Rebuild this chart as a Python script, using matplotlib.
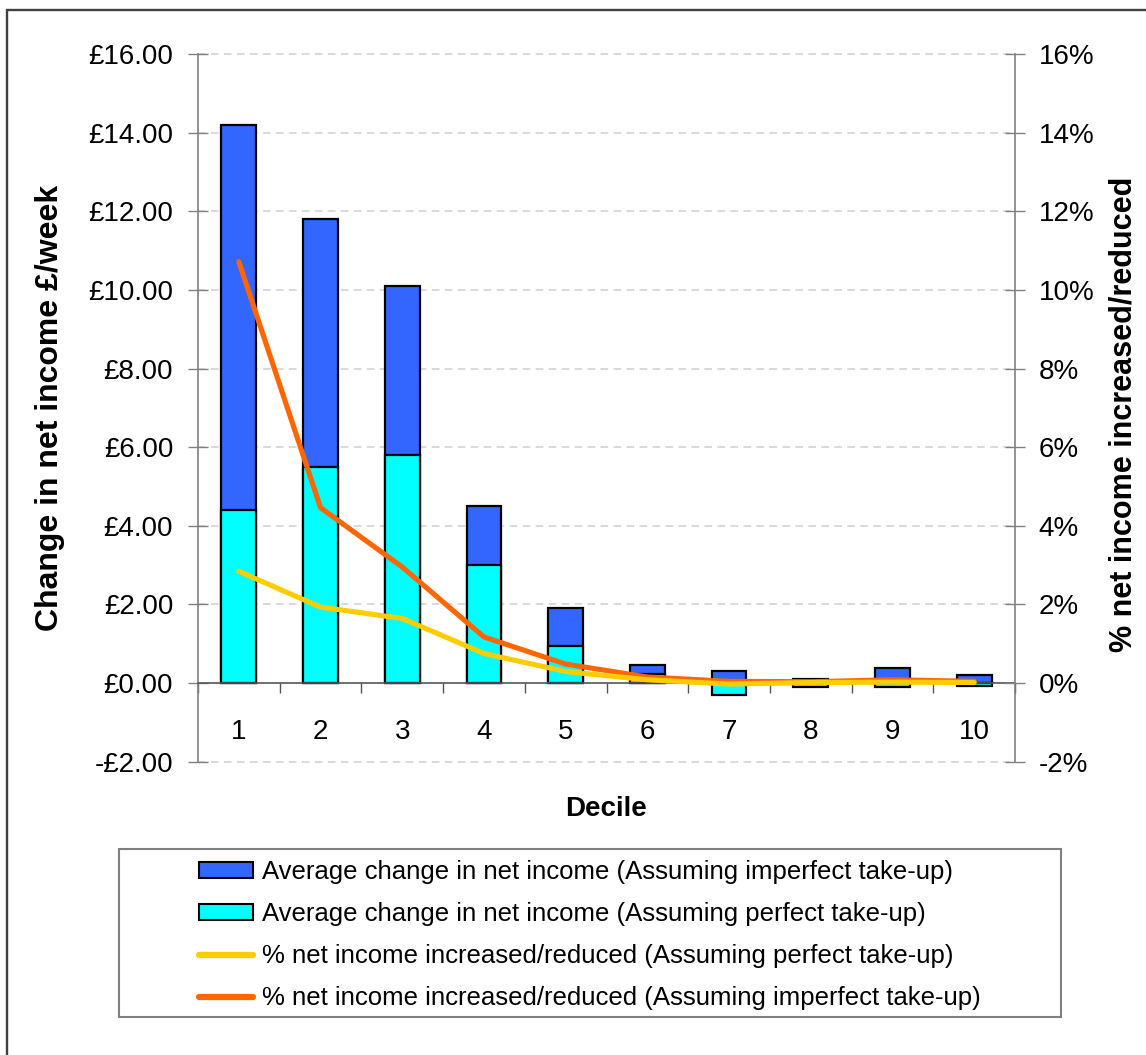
import matplotlib
matplotlib.use("Agg")
import matplotlib.pyplot as plt
from matplotlib.patches import Rectangle, Patch
from matplotlib.lines import Line2D
from matplotlib.ticker import FixedLocator

plt.rcParams['font.family'] = ['Liberation Sans', 'DejaVu Sans']

# Income deciles
deciles = [1, 2, 3, 4, 5, 6, 7, 8, 9, 10]

# Average weekly change in net income (£)
change_imperfect = [14.2, 11.8, 10.1, 4.5, 1.9, 0.45, 0.3, 0.1, 0.37, 0.21]
change_perfect = [4.4, 5.5, 5.8, 3.0, 0.95, 0.22, -0.3, -0.1, -0.1, -0.08]

# Percentage change in net income
pct_perfect = [2.84, 1.93, 1.64, 0.75, 0.29, 0.08, -0.03, 0.01, 0.02, 0.01]
pct_imperfect = [10.72, 4.46, 2.95, 1.17, 0.48, 0.15, 0.04, 0.03, 0.08, 0.04]

# Axis ticks
left_ticks = [-2, 0, 2, 4, 6, 8, 10, 12, 14, 16]
left_labels = [("-£%.2f" % abs(v)) if v < 0 else ("£%.2f" % v) for v in left_ticks]
right_ticks = [-2, 0, 2, 4, 6, 8, 10, 12, 14, 16]
right_labels = ["%d%%" % v for v in right_ticks]

legend_labels = [
    "Average change in net income (Assuming imperfect take-up)",
    "Average change in net income (Assuming perfect take-up)",
    "% net income increased/reduced (Assuming perfect take-up)",
    "% net income increased/reduced (Assuming imperfect take-up)",
]

BLUE = "#3366FF"
CYAN = "#00FFFF"
YELLOW = "#FFCC00"
ORANGE = "#FF6600"
AXIS_GREY = "#808080"
GRID_GREY = "#CFCFCF"

W, H = 1146, 1055
fig = plt.figure(figsize=(W / 100, H / 100), dpi=100)
fig.patch.set_facecolor("white")


def fx(px):
    return px / W


def fy(py):
    return 1 - py / H


# plot area in pixel coordinates
left, right, top, bottom = 198, 1015, 54.3, 761.5
ax = fig.add_axes([fx(left), fy(bottom), fx(right - left), (bottom - top) / H])
ax.set_xlim(0.5, 10.5)
ax.set_ylim(-2, 16)
ax.set_facecolor("none")

# dashed gridlines
for v in left_ticks:
    if v == 0:
        continue
    ax.axhline(v, color=GRID_GREY, lw=1.1, dashes=(5, 3.5), zorder=0, clip_on=False)

bar_w = 0.425
ax.bar(deciles, change_imperfect, width=bar_w, color=BLUE, edgecolor="black",
       linewidth=1.6, zorder=2)
ax.bar(deciles, change_perfect, width=bar_w, color=CYAN, edgecolor="black",
       linewidth=1.6, zorder=3)

# spines
for s in ("top", "right"):
    ax.spines[s].set_visible(False)
ax.spines["left"].set_color(AXIS_GREY)
ax.spines["left"].set_linewidth(1.2)
ax.spines["bottom"].set_position(("data", 0))
ax.spines["bottom"].set_color("#555555")
ax.spines["bottom"].set_linewidth(1.2)
ax.spines["bottom"].set_zorder(4)

ax.set_yticks(left_ticks)
ax.set_yticklabels(left_labels)
ax.tick_params(axis="y", direction="inout", length=13.7, width=1.0,
               color=AXIS_GREY, pad=11, labelsize=20)

ax.set_xticks(deciles)
ax.set_xticklabels([str(d) for d in deciles])
ax.xaxis.set_minor_locator(FixedLocator([d + 0.5 for d in [0] + deciles]))
ax.tick_params(axis="x", which="major", length=0, pad=26, labelsize=20)
ax.tick_params(axis="x", which="minor", direction="out", length=7.2, width=1.0,
               color="#555555")

# secondary axis for percentage lines
ax2 = ax.twinx()
ax2.set_ylim(-2, 16)
ax2.set_xlim(0.5, 10.5)
ax2.plot(deciles, pct_imperfect, color=ORANGE, lw=3.7, solid_capstyle="round",
         solid_joinstyle="round", zorder=5)
ax2.plot(deciles, pct_perfect, color=YELLOW, lw=3.7, solid_capstyle="round",
         solid_joinstyle="round", zorder=6)
for s in ("top", "left", "bottom"):
    ax2.spines[s].set_visible(False)
ax2.spines["right"].set_color(AXIS_GREY)
ax2.spines["right"].set_linewidth(1.2)
ax2.set_yticks(right_ticks)
ax2.set_yticklabels(right_labels)
ax2.tick_params(axis="y", direction="inout", length=13.7, width=1.0,
                color=AXIS_GREY, pad=10, labelsize=20)

# axis titles
fig.text(fx(50), fy(408), "Change in net income £/week", rotation=90,
         ha="center", va="center", fontsize=23, fontweight="bold")
fig.text(fx(1124), fy(414), "% net income increased/reduced", rotation=90,
         ha="center", va="center", fontsize=22, fontweight="bold")
fig.text(fx(606), fy(809), "Decile", ha="center", va="center",
         fontsize=20, fontweight="bold")

# legend box
fig.add_artist(Rectangle((fx(119), fy(1017)), fx(1061 - 119), (1017 - 849) / H,
                         transform=fig.transFigure, facecolor="none",
                         edgecolor=AXIS_GREY, lw=1.5, clip_on=False))
handles = [
    Patch(facecolor=BLUE, edgecolor="black", lw=1.5),
    Patch(facecolor=CYAN, edgecolor="black", lw=1.5),
    Line2D([], [], color=YELLOW, lw=4.5, solid_capstyle="round"),
    Line2D([], [], color=ORANGE, lw=4.5, solid_capstyle="round"),
]
fig.legend(handles, legend_labels, loc="upper left",
           bbox_to_anchor=(fx(199), fy(860)), frameon=False, fontsize=18.5,
           handlelength=2.1, handleheight=0.55, handletextpad=0.35,
           labelspacing=0.7, borderpad=0, borderaxespad=0)

# outer frame
fig.add_artist(Rectangle((fx(7), fy(H + 10)), fx(W + 10 - 7), (H + 10 - 10) / H,
                         transform=fig.transFigure, facecolor="none",
                         edgecolor="#404040", lw=1.7, clip_on=False))

fig.savefig("out.png", dpi=100)
